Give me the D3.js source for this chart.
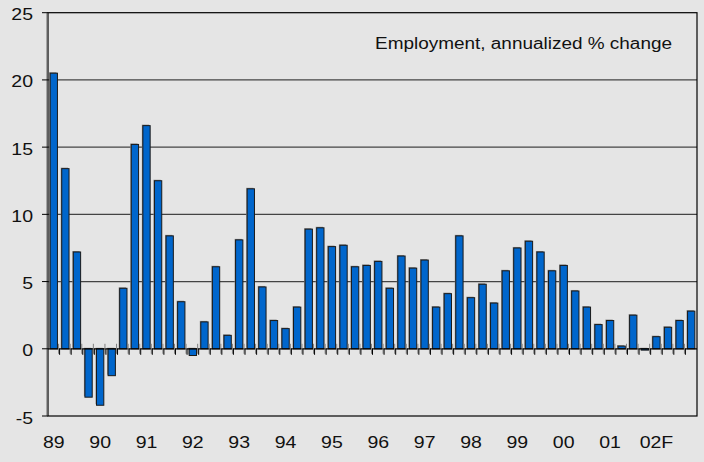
<!DOCTYPE html>
<html><head><meta charset="utf-8">
<script src="https://cdn.jsdelivr.net/npm/d3@7"></script>
<style>
html,body{margin:0;padding:0;background:#e5e5e5;}
svg{display:block;}
text{font-family:"Liberation Sans",Arial,Helvetica,sans-serif;fill:#111;}
</style></head>
<body>
<script>
const years = ["89","90","91","92","93","94","95","96","97","98","99","00","01","02F"];
const quarters = ["Q1","Q2","Q3","Q4"];
const values = [
  20.5, 13.4, 7.2, -3.6,
  -4.2, -2.0, 4.5, 15.2,
  16.6, 12.5, 8.4, 3.5,
  -0.5, 2.0, 6.1, 1.0,
  8.1, 11.9, 4.6, 2.1,
  1.5, 3.1, 8.9, 9.0,
  7.6, 7.7, 6.1, 6.2,
  6.5, 4.5, 6.9, 6.0,
  6.6, 3.1, 4.1, 8.4,
  3.8, 4.8, 3.4, 5.8,
  7.5, 8.0, 7.2, 5.8,
  6.2, 4.3, 3.1, 1.8,
  2.1, 0.2, 2.5, -0.1,
  0.9, 1.6, 2.1, 2.8
];
const yTicks = [-5, 0, 5, 10, 15, 20, 25];
const title = "Employment, annualized % change";

const W = 704, H = 462;
const pL = 48, pR = 697, pT = 12.7, pB = 416;
const categories = [];
years.forEach(yr => quarters.forEach(q => categories.push(yr + q)));
const data = categories.map((c, i) => ({c, v: values[i]}));

const svg = d3.select("body").append("svg").attr("width", W).attr("height", H);
svg.append("rect").attr("width", W).attr("height", H).attr("fill", "#e5e5e5");

const x = d3.scaleBand().domain(categories).range([pL, pR]).paddingInner(0.37).paddingOuter(0.185);
const y = d3.scaleLinear().domain([-5, 25]).range([pB, pT]);
const step = x.step();

// gridlines
svg.append("g").selectAll("line").data(yTicks.filter(t => t > 0 && t < 25)).join("line")
  .attr("x1", pL).attr("x2", pR)
  .attr("y1", d => y(d)).attr("y2", d => y(d))
  .attr("stroke", "#444").attr("stroke-width", 1.2);

// bar shadows
svg.append("g").selectAll("rect").data(data).join("rect")
  .attr("x", d => x(d.c) - 1)
  .attr("y", d => Math.min(y(d.v), y(0)) - 1)
  .attr("width", x.bandwidth())
  .attr("height", d => Math.max(Math.abs(y(d.v) - y(0)), 0.6))
  .attr("fill", "#8a8a8a");

// bars
svg.append("g").selectAll("rect").data(data).join("rect")
  .attr("x", d => x(d.c))
  .attr("y", d => Math.min(y(d.v), y(0)))
  .attr("width", x.bandwidth())
  .attr("height", d => Math.max(Math.abs(y(d.v) - y(0)), 0.6))
  .attr("fill", "#0066cc")
  .attr("stroke", "#1a1a1a").attr("stroke-width", 1);

// zero line
svg.append("line").attr("x1", pL).attr("x2", pR).attr("y1", y(0)).attr("y2", y(0))
  .attr("stroke", "#000").attr("stroke-width", 1.3);

// x ticks at band boundaries
const bounds = d3.range(1, categories.length).map(i => pL + i * step);
svg.append("g").selectAll("line").data(bounds).join("line")
  .attr("x1", d => d - 1).attr("x2", d => d - 1)
  .attr("y1", y(0) - 5).attr("y2", y(0) + 5)
  .attr("stroke", "#808080").attr("stroke-width", 1);
svg.append("g").selectAll("line").data(bounds).join("line")
  .attr("x1", d => d).attr("x2", d => d)
  .attr("y1", y(0)).attr("y2", y(0) + 6)
  .attr("stroke", "#000").attr("stroke-width", 1);

// plot frame
svg.append("rect").attr("x", pL).attr("y", pT).attr("width", pR - pL).attr("height", pB - pT)
  .attr("fill", "none").attr("stroke", "#000").attr("stroke-width", 1.2);
svg.append("line").attr("x1", pL - 1).attr("x2", pL - 1).attr("y1", pT).attr("y2", pB)
  .attr("stroke", "#666").attr("stroke-width", 1);

// y axis ticks and labels
const yg = svg.append("g");
yg.selectAll("line").data(yTicks).join("line")
  .attr("x1", pL - 6).attr("x2", pL)
  .attr("y1", d => y(d)).attr("y2", d => y(d))
  .attr("stroke", "#000").attr("stroke-width", 1);
yg.selectAll("text").data(yTicks).join("text")
  .attr("transform", d => `translate(33,${y(d) + 7.5}) scale(1.22,1)`)
  .attr("text-anchor", "end")
  .attr("font-size", 16)
  .text(d => d);

// x labels at first quarter of each year
svg.append("g").selectAll("text").data(years).join("text")
  .attr("transform", d => `translate(${x(d + "Q1") + x.bandwidth() / 2},448) scale(1.22,1)`)
  .attr("text-anchor", "middle")
  .attr("font-size", 16)
  .text(d => d);

// title
svg.append("text").attr("x", 375).attr("y", 49)
  .attr("font-size", 16)
  .attr("textLength", 297).attr("lengthAdjust", "spacingAndGlyphs")
  .text(title);
</script>
</body></html>
